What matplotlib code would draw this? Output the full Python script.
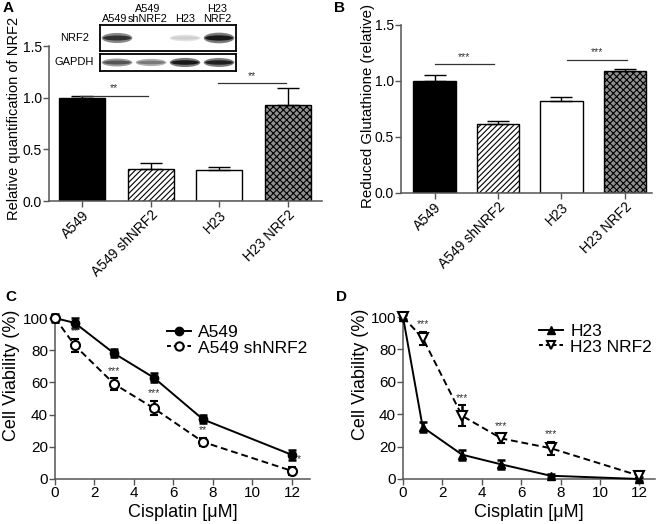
import matplotlib
matplotlib.use('Agg')
import matplotlib.pyplot as plt
from matplotlib.patches import Ellipse
from matplotlib.lines import Line2D

plt.rcParams['font.family'] = ['Liberation Sans', 'DejaVu Sans']
plt.rcParams['hatch.linewidth'] = 0.8

# bar panels
groups = ['A549', 'A549 shNRF2', 'H23', 'H23 NRF2']
nrf2_rel = [1.0, 0.31, 0.30, 0.93]
nrf2_err = [0.02, 0.06, 0.025, 0.16]
gsh_rel = [1.0, 0.615, 0.825, 1.085]
gsh_err = [0.05, 0.03, 0.03, 0.02]

# western blot inset
blot_lanes = ['A549', 'A549\nshNRF2', 'H23', 'H23\nNRF2']
nrf2_band = [0.85, 0.0, 0.2, 0.95]
gapdh_band = [0.7, 0.55, 0.95, 0.92]

# viability curves
dose = [0, 1, 3, 5, 7.5, 12]
a549 = [100, 97, 78, 63, 37, 15]
a549_err = [2.5, 3, 2.5, 3, 2.5, 3]
a549_sh = [100, 83, 59, 44, 23, 5]
a549_sh_err = [2, 4, 3.5, 4.5, 2.5, 2.5]
sig_c = ['', '**', '***', '***', '**', '*']
h23 = [100, 32, 15, 9, 2, 0]
h23_err = [1.5, 3, 3, 3, 1, 1]
h23_nrf2 = [100, 87, 39, 25, 19, 2]
h23_nrf2_err = [1.5, 4, 6.5, 3, 4, 1.5]
sig_d = ['', '***', '***', '***', '***', '']

AX = '#555555'
fig = plt.figure(figsize=(6.58, 5.24), dpi=100)


def style(ax, size):
    for s in ['top', 'right']:
        ax.spines[s].set_visible(False)
    for s in ['left', 'bottom']:
        ax.spines[s].set_color(AX)
        ax.spines[s].set_linewidth(1.1)
    ax.tick_params(direction='out', length=4, width=1, color=AX, labelsize=size, pad=1)


def bar_panel(ax, vals, errs):
    x = list(range(len(vals)))
    styles = [dict(color='black'),
              dict(color='white', hatch='//////'),
              dict(color='white'),
              dict(color='#909090', hatch='xxxxx')]
    for i, v in enumerate(vals):
        ax.bar(i, v, width=0.67, edgecolor='black', linewidth=1.0, **styles[i])
    ax.errorbar(x, vals, yerr=[[0] * len(vals), errs], fmt='none',
                ecolor='black', elinewidth=1, capsize=8, capthick=1)
    ax.set_xticks(x)
    ax.set_xticklabels(groups, rotation=45, ha='right', rotation_mode='anchor', fontsize=12.5)
    ax.set_yticks([0, 0.5, 1.0, 1.5])
    ax.set_yticklabels(['0.0', '0.5', '1.0', '1.5'])
    style(ax, 10)


def sig_line(ax, x0, x1, y, txt):
    ax.plot([x0, x1], [y, y], color='#333333', lw=0.9)
    ax.text((x0 + x1) / 2, y + 0.02, txt, ha='center', va='bottom', fontsize=7.5, color='#333333')


# A
axA = fig.add_axes([0.0745, 0.6164, 0.415, 0.2958])
bar_panel(axA, nrf2_rel, nrf2_err)
axA.set_xlim(-0.48, 3.5)
axA.set_ylim(0, 1.5)
axA.set_ylabel('Relative quantification of NRF2', fontsize=10.5)
axA.yaxis.set_label_coords(-0.103, 0.53)
sig_line(axA, -0.03, 0.96, 1.02, '**')
sig_line(axA, 1.98, 2.97, 1.14, '**')

# blot inset
for bottom, height, levels, name, hmax in [(0.9027, 0.0496, nrf2_band, 'NRF2', 0.42),
                                          (0.8645, 0.0325, gapdh_band, 'GAPDH', 0.55)]:
    bx = fig.add_axes([0.152, bottom, 0.2067, height])
    bx.set_xlim(0, 4)
    bx.set_ylim(0, 1)
    bx.set_xticks([])
    bx.set_yticks([])
    for s in bx.spines.values():
        s.set_linewidth(1.3)
    for i, lv in enumerate(levels):
        if lv <= 0:
            continue
        h = hmax * (0.5 + 0.5 * lv)
        g = 1 - 0.55 * lv
        bx.add_patch(Ellipse((i + 0.5, 0.5), 0.9, h, color=(g, g, g), lw=0))
        g2 = 1 - 0.95 * lv
        bx.add_patch(Ellipse((i + 0.5, 0.5), 0.82, h * 0.5, color=(g2, g2, g2), lw=0))
    fig.text(0.113, bottom + height / 2, name, ha='center', va='center', fontsize=8)
for xc, lab in zip([0.175, 0.224, 0.281, 0.330], blot_lanes):
    fig.text(xc, 0.955, lab, ha='center', va='bottom', fontsize=7.8, linespacing=1.0)

# B
axB = fig.add_axes([0.6094, 0.6317, 0.3815, 0.3206])
bar_panel(axB, gsh_rel, gsh_err)
axB.set_xlim(-0.53, 3.43)
axB.set_ylim(0, 1.5)
axB.set_ylabel('Reduced Glutathione (relative)', fontsize=10.8)
axB.yaxis.set_label_coords(-0.104, 0.52)
sig_line(axB, 0.0, 0.94, 1.15, '***')
sig_line(axB, 2.09, 3.03, 1.19, '***')


def curve_panel(ax, ya, ea, yb, eb, mk_a, mk_b, lab_a, lab_b, sig, xmax, last_shift, ylab_x):
    ax.errorbar(dose, ya, yerr=ea, color='black', lw=1.4, marker=mk_a, ms=6,
                mfc='black', mec='black', capsize=3, elinewidth=1.8, capthick=1.8,
                clip_on=False, zorder=3)
    ax.errorbar(dose, yb, yerr=eb, color='black', lw=1.4, ls='--', dashes=(3.5, 2),
                marker=mk_b, ms=6.5, mfc='white', mec='black', mew=1.5, capsize=3,
                elinewidth=1.8, capthick=1.8, clip_on=False, zorder=4)
    for i, s in enumerate(sig):
        if not s:
            continue
        xs = dose[i] + (last_shift if i == len(dose) - 1 else 0)
        ax.text(xs, yb[i] + eb[i] + 1.5, s, ha='center', va='bottom', fontsize=7.5, color='#333333')
    ax.set_xlim(0, xmax)
    ax.set_ylim(0, 100)
    ax.set_xticks([0, 2, 4, 6, 8, 10, 12])
    ax.set_yticks([0, 20, 40, 60, 80, 100])
    ax.set_xlabel('Cisplatin [μM]', fontsize=13, labelpad=3)
    ax.set_ylabel('Cell Viability (%)', fontsize=13)
    ax.yaxis.set_label_coords(ylab_x, 0.646)
    style(ax, 11)
    handles = [Line2D([], [], color='black', lw=1.4, marker=mk_a, ms=6, mfc='black'),
               Line2D([], [], color='black', lw=1.4, ls='--', dashes=(2, 1.5), marker=mk_b,
                      ms=6, mfc='white', mew=1.5)]
    ax.legend(handles, [lab_a, lab_b], loc='upper right', bbox_to_anchor=(1.03, 1.02),
              frameon=False, fontsize=12.5, handlelength=1.4, handletextpad=0.4,
              labelspacing=0.0, borderaxespad=0.2)


axC = fig.add_axes([0.0836, 0.0859, 0.3874, 0.3071])
curve_panel(axC, a549, a549_err, a549_sh, a549_sh_err, 'o', 'o', 'A549', 'A549 shNRF2',
            sig_c, 12.91, 0.35, -0.137)

axD = fig.add_axes([0.6125, 0.0859, 0.3830, 0.3091])
curve_panel(axD, h23, h23_err, h23_nrf2, h23_nrf2_err, '^', 'v', 'H23', 'H23 NRF2',
            sig_d, 12.8, 0, -0.135)

for x, y, t in [(0.004, 0.998, 'A'), (0.507, 0.998, 'B'), (0.008, 0.447, 'C'), (0.510, 0.447, 'D')]:
    fig.text(x, y, t, fontsize=11, fontweight='bold', va='top', ha='left')

fig.savefig('out.png', dpi=100)
